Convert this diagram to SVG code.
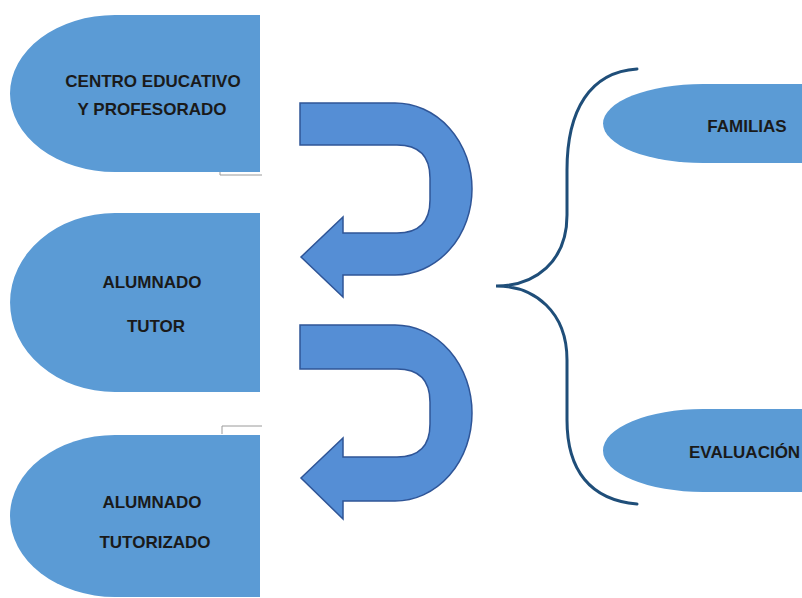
<svg xmlns="http://www.w3.org/2000/svg" width="802" height="598" viewBox="0 0 802 598">
<style>
.shape{fill:#5b9bd5;}
.arrow{fill:#558ed5;stroke:#2f5597;stroke-width:1.5;stroke-linejoin:miter;}
.lbl{font-family:"Liberation Sans",Arial,sans-serif;font-weight:bold;font-size:17px;fill:#1a1a1a;}
.thin{fill:none;stroke:#9a9a9a;stroke-width:1;}
.brace{fill:none;stroke:#1f4e79;stroke-width:3;stroke-linecap:round;}
</style>
<rect width="802" height="598" fill="#ffffff"/>
<g id="centro">
<path class="shape" d="M260 15 L115 15 A105 78.5 0 0 0 115 172 L260 172 Z"/>
<text class="lbl" x="153" y="87" text-anchor="middle">CENTRO EDUCATIVO</text>
<text class="lbl" x="152" y="115" text-anchor="middle">Y PROFESORADO</text>
</g>
<g id="tutor">
<path class="shape" d="M260 213 L115 213 A105 89.5 0 0 0 115 392 L260 392 Z"/>
<text class="lbl" x="152" y="288" text-anchor="middle">ALUMNADO</text>
<text class="lbl" x="156" y="332" text-anchor="middle">TUTOR</text>
</g>
<g id="tutorizado">
<path class="shape" d="M260 435 L115 435 A105 81 0 0 0 115 597 L260 597 Z"/>
<text class="lbl" x="152" y="508" text-anchor="middle">ALUMNADO</text>
<text class="lbl" x="155" y="548" text-anchor="middle">TUTORIZADO</text>
</g>
<g id="marks">
<path class="thin" d="M220 172 L220 175 L262 175"/>
<path class="thin" d="M222 434 L222 426 L262 426"/>
</g>
<g id="familias">
<path class="shape" d="M802 84 L703 84 A100 39.5 0 0 0 703 163 L802 163 Z"/>
<text class="lbl" x="747" y="132" text-anchor="middle">FAMILIAS</text>
</g>
<g id="evaluacion">
<path class="shape" d="M802 409 L703 409 A100 41.5 0 0 0 703 492 L802 492 Z"/>
<text class="lbl" x="689" y="458">EVALUACIÓN</text>
</g>
<g id="connectors">
<path class="arrow" d="M300 103 L395 103 A77 86 0 0 1 395 275 L343 275 L343 297 L301 257 L343 217 L343 233 L397 233 Q430 233 430 200 L430 178 Q430 145 397 145 L300 145 Z"/>
<path class="arrow" d="M300 325 L395 325 A77 88 0 0 1 395 501 L343 501 L343 519 L301 478 L343 438 L343 457 L397 457 Q430 457 430 424 L430 402 Q430 369 397 369 L300 369 Z"/>
<path class="brace" d="M637 69 C590 72 567 110 567 170 L567 215 C567 262 535 286 496 286 C535 286 567 312 567 360 L567 420 C567 470 590 500 637 504"/>
</g>
</svg>
